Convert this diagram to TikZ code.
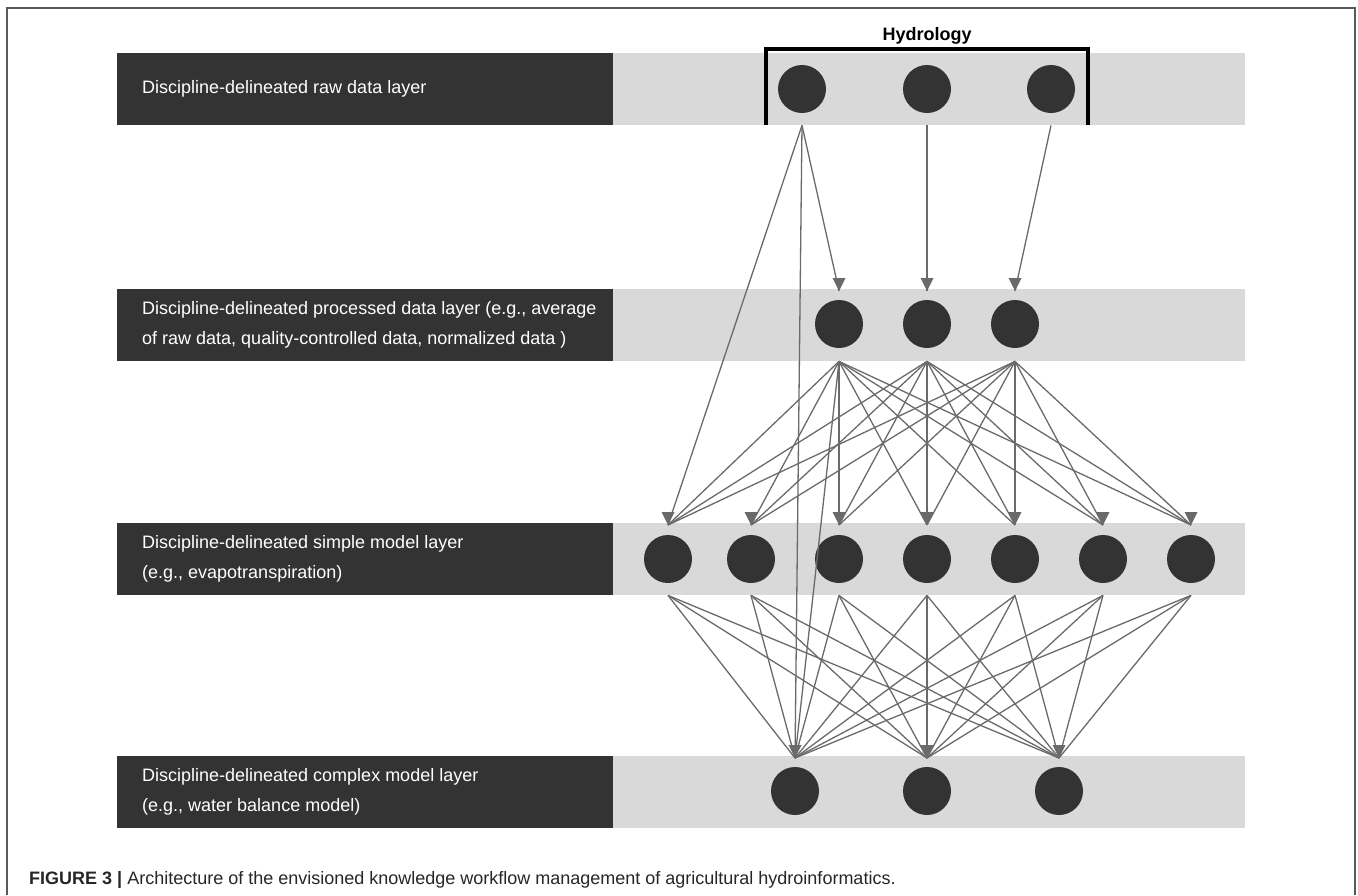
\documentclass[tikz,border=0pt]{standalone}
\usepackage{fontspec}
\setmainfont{Liberation Sans}
\usetikzlibrary{arrows.meta}
\definecolor{layerdark}{HTML}{333333}
\definecolor{bandgray}{HTML}{D9D9D9}
\definecolor{linkgray}{HTML}{6A6A6A}
\tikzset{
  layerbox/.style={fill=layerdark, anchor=north west, minimum width=496pt,
    minimum height=72pt, inner sep=0pt},
  labeltext/.style={text=white, anchor=west, inner sep=0pt, align=left,
    font=\fontsize{18}{30}\selectfont},
  layerband/.style={fill=bandgray, anchor=north west, minimum width=632pt,
    minimum height=72pt, inner sep=0pt},
  dot/.style={circle, fill=layerdark, minimum size=48pt, inner sep=0pt},
  link/.style={draw=linkgray, line width=1.3pt},
  tipmark/.style={fill=linkgray}
}
\begin{document}
\begin{tikzpicture}[x=1pt,y=-1pt]
  \useasboundingbox (0,0) rectangle (1358,895);
  \draw [line width=1.5pt, draw=black!65] (7,895) -- (7,8) -- (1355,8) -- (1355,895);

  \node[layerbox] (rawbox) at (117,53) {};
  \node[labeltext] (rawlabel) at ([xshift=25pt]rawbox.west) {Discipline-delineated raw data layer};
  \node[layerband] (rawband) at (613,53) {};
  \node[layerbox] (procbox) at (117,289) {};
  \node[labeltext] (proclabel) at ([xshift=25pt]procbox.west) {Discipline-delineated processed data layer (e.g., average\\of raw data, quality-controlled data, normalized data )};
  \node[layerband] (procband) at (613,289) {};
  \node[layerbox] (simplebox) at (117,523) {};
  \node[labeltext] (simplelabel) at ([xshift=25pt]simplebox.west) {Discipline-delineated simple model layer\\(e.g., evapotranspiration)};
  \node[layerband] (simpleband) at (613,523) {};
  \node[layerbox] (complexbox) at (117,756) {};
  \node[labeltext] (complexlabel) at ([xshift=25pt]complexbox.west) {Discipline-delineated complex model layer\\(e.g., water balance model)};
  \node[layerband] (complexband) at (613,756) {};

  \draw [line width=4pt] (766,125) -- (766,49) -- (1088,49) -- (1088,125);
  \node[anchor=base, font=\bfseries\fontsize{18}{18}\selectfont] (hydrology) at (927,40) {Hydrology};

  \foreach \x [count=\i] in {802,927,1051} {
    \node[dot] (r\i) at (\x,89) {};
    \coordinate (r\i-out) at (r\i |- rawband.south);
  }
  \foreach \x [count=\i] in {839,927,1015} {
    \node[dot] (p\i) at (\x,324) {};
    \coordinate (p\i-in) at ([yshift=-2pt]p\i |- procband.north);
    \coordinate (p\i-out) at (p\i |- procband.south);
  }
  \foreach \x [count=\i] in {668,751,839,927,1015,1103,1191} {
    \node[dot] (s\i) at (\x,559) {};
    \coordinate (s\i-in) at ([yshift=-2pt]s\i |- simpleband.north);
    \coordinate (s\i-out) at (s\i |- simpleband.south);
  }
  \foreach \x [count=\i] in {795,927,1059} {
    \node[dot] (c\i) at (\x,791) {};
    \coordinate (c\i-in) at ([yshift=-2pt]c\i |- complexband.north);
  }

  \draw[link] (r1-out) -- (p1-in);
  \draw[link] (r1-out) -- (s1-in);
  \draw[link] (r1-out) -- (c1-in);
  \draw[link] (r2-out) -- (p2-in);
  \draw[link] (r3-out) -- (p3-in);
  \foreach \i in {1,2,3}
    \foreach \j in {1,...,7}
      \draw[link] (p\i-out) -- (s\j-in);
  \draw[link] (p1-out) -- (c1-in);
  \foreach \i in {1,...,7}
    \foreach \j in {1,2,3}
      \draw[link] (s\i-out) -- (c\j-in);

  % arrow heads, all pointing down
  \foreach \n in {p1,p2,p3,s1,s2,s3,s4,s5,s6,s7,c1,c2,c3}
    \fill[tipmark] (\n-in) -- ++(-6.5,-13) -- ++(13,0) -- cycle;

  \node[anchor=base west, inner sep=0pt, text=black!85, font=\fontsize{18}{20}\selectfont] (caption) at (29,884)
    {\textbf{FIGURE 3 |} Architecture of the envisioned knowledge workflow management of agricultural hydroinformatics.};
\end{tikzpicture}
\end{document}
